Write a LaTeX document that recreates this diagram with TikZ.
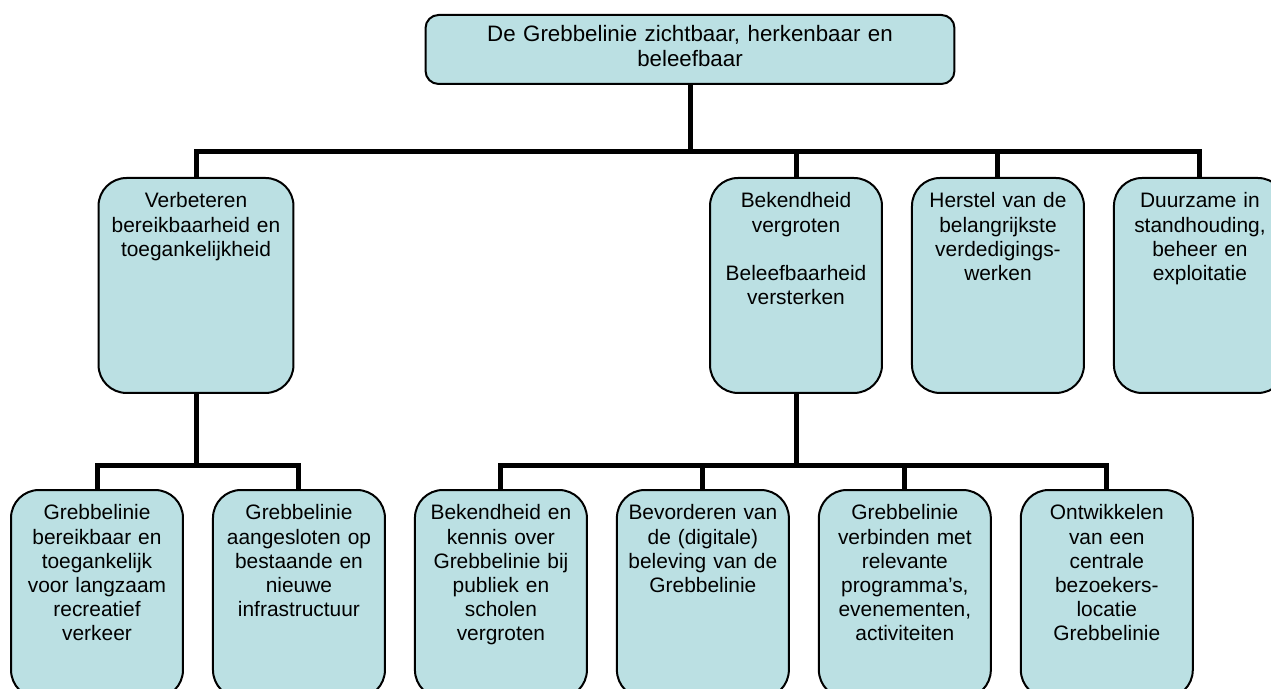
\documentclass[tikz,border=0pt]{standalone}
\usepackage{fontspec}
\setmainfont{Liberation Sans}
\usepackage{tikz}
\usetikzlibrary{positioning}
\definecolor{vakblauw}{RGB}{187,224,227}
\tikzstyle{vak} = [draw=black, fill=vakblauw, line width=0.04cm, rectangle, align=center, font=\fontsize{11.9}{13.7}\selectfont, inner xsep=0.1cm, inner ysep=0.3cm, text height=0.3cm, anchor=north]
\tikzstyle{hoofddoel} = [vak, rounded corners=0.26cm, text width=10.38cm, inner ysep=0.21cm, text height=0.32cm, text depth=0.64cm, font=\fontsize{12.7}{14.2}\selectfont]
\tikzstyle{thema} = [vak, rounded corners=0.56cm, text width=3.24cm, text depth=3.4cm]
\tikzstyle{actie} = [vak, rounded corners=0.56cm, text width=3.24cm, text depth=3.26cm]
\tikzstyle{tak} = [line width=0.1cm]

\begin{document}
\begin{tikzpicture}[x=0.02cm, y=-0.02cm]
					\useasboundingbox (0,0) rectangle (1271,689);
					\node[hoofddoel] (top) at (690,14) {De Grebbelinie zichtbaar, herkenbaar en\\beleefbaar};
					\node[thema, text width=3.7cm] (m1) at (196,177) {Verbeteren\\bereikbaarheid en\\toegankelijkheid};
					\node[thema] (m2) at (796,177) {Bekendheid\\vergroten\\~\\Beleefbaarheid\\versterken};
					\node[thema, right=0.56cm of m2] (m3) {Herstel van de\\belangrijkste\\verdedigings-\\werken};
					\node[thema, right=0.56cm of m3] (m4) {Duurzame in\\standhouding,\\beheer en\\exploitatie};
					\node[actie] (l1) at (97,489) {Grebbelinie\\bereikbaar en\\toegankelijk\\voor langzaam\\recreatief\\verkeer};
					\node[actie, right=0.56cm of l1] (l2) {Grebbelinie\\aangesloten op\\bestaande en\\nieuwe\\infrastructuur};
					\node[actie, right=0.56cm of l2] (l3) {Bekendheid en\\kennis over\\Grebbelinie bij\\publiek en\\scholen\\vergroten};
					\node[actie, right=0.56cm of l3] (l4) {Bevorderen van\\de (digitale)\\beleving van de\\Grebbelinie};
					\node[actie, right=0.56cm of l4] (l5) {Grebbelinie\\verbinden met\\relevante\\programma’s,\\evenementen,\\activiteiten};
					\node[actie, right=0.56cm of l5] (l6) {Ontwikkelen\\van een\\centrale\\bezoekers-\\locatie\\Grebbelinie};
					\coordinate (knik1) at (690,152);
					\coordinate (knik2) at (196,465);
					\coordinate (knik3) at (796,465);
					\foreach \k in {m1,m2,m3,m4}
						\draw[tak] (top.south) -- (knik1) -| (\k.north);
					\foreach \k in {l1,l2}
						\draw[tak] (m1.south) -- (knik2) -| (\k.north);
					\foreach \k in {l3,l4,l5,l6}
						\draw[tak] (m2.south) -- (knik3) -| (\k.north);
\end{tikzpicture}
\end{document}
